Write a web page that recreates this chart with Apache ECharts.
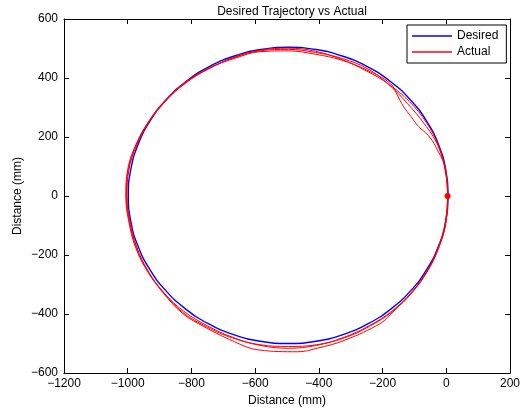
<!DOCTYPE html>
<html>
<head>
<meta charset="utf-8">
<script src="https://cdn.jsdelivr.net/npm/echarts@6/dist/echarts.min.js"></script>
<style>
  html, body { margin: 0; padding: 0; background: #fff; }
  #chart { width: 527px; height: 412px; }
</style>
</head>
<body>
<div id="chart"></div>
<script>
// Reference path: a circle of about 500 mm radius passing near the origin (x, y in mm)
const desiredPath = [
  [6, 2], [-1.6, 89.1], [-24.3, 173.7], [-61.3, 253], [-111.5, 324.7], [-173.3, 386.5],
  [-245, 436.7], [-324.3, 473.7], [-408.9, 496.4], [-496, 504], [-583.1, 496.4],
  [-667.7, 473.7], [-747, 436.7], [-818.7, 386.5], [-880.5, 324.7], [-930.7, 253],
  [-967.7, 173.7], [-990.4, 89.1], [-998, 2], [-990.4, -85.1], [-967.7, -169.7],
  [-930.7, -249], [-880.5, -320.7], [-818.7, -382.5], [-747, -432.7], [-667.7, -469.7],
  [-583.1, -492.4], [-496, -500], [-408.9, -492.4], [-324.3, -469.7], [-245, -432.7],
  [-173.3, -382.5], [-111.5, -320.7], [-61.3, -249], [-24.3, -169.7], [-1.6, -85.1], [6, 2]
];

// Measured path, three laps (x, y in mm)
const actualLap1 = [
  [4, 0], [-1.6, 87.1], [-33.7, 168.3], [-56.4, 205], [-87.2, 236], [-111, 269.6],
  [-134.4, 303.4], [-153.8, 342.2], [-175.9, 381.5], [-249.5, 426.9], [-328.4, 460.5],
  [-411.3, 480.6], [-496, 492], [-582.3, 489.5], [-665.6, 466.1], [-746, 433],
  [-819.3, 385.3], [-882.1, 324], [-934.2, 253], [-973.4, 173.7], [-998.2, 88.5],
  [-1004, 0], [-994.3, -87.8], [-973.4, -173.7], [-937.7, -255], [-888.2, -329.1],
  [-829, -396.8], [-779, -432], [-665, -494], [-588, -522], [-466, -528], [-405, -516],
  [-318.2, -488.6], [-204, -430], [-166.9, -392.2], [-106.9, -326.5], [-58.7, -252.5],
  [-23.3, -172], [-1.6, -87.1], [4, 0]
];
const actualLap2 = [
  [-3.6, 86.8], [-26.2, 171], [-69.9, 246], [-122.2, 313.7], [-179.7, 376.9],
  [-247, 431.3], [-326.4, 466.1], [-410.2, 486.5], [-496, 497], [-582.8, 492.4],
  [-666.7, 468.9], [-747, 431.3], [-817.4, 383], [-881.3, 323.3], [-933.3, 252.5],
  [-974.3, 174.1], [-1000.2, 88.9], [-1006, 0], [-996.3, -88.2], [-975.2, -174.4],
  [-937.7, -255], [-886.7, -327.8], [-827, -394.5], [-752, -443.4], [-671.1, -481.1],
  [-584.9, -504.2], [-496, -510], [-407.1, -504.2], [-320.9, -481.1], [-241, -441.7],
  [-168.2, -390.7], [-106.9, -326.5], [-57.8, -253], [-22.4, -172.4], [-0.6, -87.3], [4, 0]
];
const actualLap3 = [
  [-2.6, 87], [-25.2, 171.3], [-63, 250], [-115.3, 319.5], [-179.1, 377.6],
  [-251, 424.3], [-327.7, 462.3], [-409.5, 490.4], [-496, 501], [-583.1, 494.4],
  [-667, 469.8], [-745, 431.3], [-818.7, 384.5], [-880.5, 322.7], [-932.5, 252],
  [-971.5, 173.1], [-996.3, 88.2], [-1002, 0], [-992.3, -87.5], [-971.5, -173.1],
  [-936, -254], [-886.7, -327.8], [-823.8, -390.7], [-750, -439.9], [-670.4, -479.2],
  [-585.2, -506.2], [-496, -516], [-406.8, -506.2], [-321.6, -479.2], [-242, -439.9],
  [-169.5, -389.1], [-108.4, -325.3], [-59.5, -252], [-24.3, -171.7], [-2.6, -87], [4, 0]
];

const xTicks = { min: -1200, max: 200, step: 200 };
const yTicks = { min: -600, max: 600, step: 200 };

const minusFmt = v => String(v).replace('-', '\u2212');
const FONT = '"Liberation Sans", Arial, Helvetica, sans-serif';

// First sample carries a small start marker
const actualPath = actualLap1.concat(actualLap2, actualLap3).map((p, i) =>
  i === 0 ? { value: p, symbol: 'circle', symbolSize: 6, itemStyle: { color: '#ff0000' } } : p
);

const axisBase = {
  type: 'value',
  axisLine: { show: true, onZero: false, lineStyle: { color: '#000', width: 1 } },
  axisTick: { show: true, inside: true, length: 5, lineStyle: { color: '#000' } },
  splitLine: { show: false },
  axisLabel: { color: '#000', fontFamily: FONT, fontSize: 12, formatter: minusFmt }
};

const chart = echarts.init(document.getElementById('chart'), null, { renderer: 'canvas' });
chart.setOption({
  animation: false,
  backgroundColor: '#fff',
  title: {
    text: 'Desired Trajectory vs Actual',
    left: 287, top: 1, textAlign: 'center',
    textStyle: { fontFamily: FONT, fontSize: 12, fontWeight: 'normal', color: '#000' }
  },
  grid: { left: 64, right: 17, top: 19, bottom: 39, containLabel: false },
  legend: {
    orient: 'vertical',
    left: 407, top: 25,
    padding: [5, 8, 5, 5],
    itemGap: 4,
    itemWidth: 40, itemHeight: 1.5,
    backgroundColor: '#fff',
    borderColor: '#000', borderWidth: 1,
    textStyle: { fontFamily: FONT, fontSize: 12, color: '#000', lineHeight: 12 },
    data: [
      { name: 'Desired', icon: 'rect' },
      { name: 'Actual', icon: 'rect' }
    ]
  },
  xAxis: [
    Object.assign({}, axisBase, {
      min: xTicks.min, max: xTicks.max, interval: xTicks.step,
      name: 'Distance (mm)', nameLocation: 'middle', nameGap: 20,
      nameTextStyle: { fontFamily: FONT, fontSize: 12, color: '#000' },
      axisLabel: Object.assign({}, axisBase.axisLabel, { margin: 5 })
    }),
    Object.assign({}, axisBase, {
      position: 'top', min: xTicks.min, max: xTicks.max, interval: xTicks.step,
      axisLabel: { show: false }
    })
  ],
  yAxis: [
    Object.assign({}, axisBase, {
      min: yTicks.min, max: yTicks.max, interval: yTicks.step,
      name: 'Distance (mm)', nameLocation: 'middle', nameGap: 40, nameRotate: 90,
      nameMoveOverlap: false,
      nameTextStyle: { fontFamily: FONT, fontSize: 12, color: '#000' },
      axisLabel: Object.assign({}, axisBase.axisLabel, { margin: 6 })
    }),
    Object.assign({}, axisBase, {
      position: 'right', min: yTicks.min, max: yTicks.max, interval: yTicks.step,
      axisLabel: { show: false }
    })
  ],
  series: [
    {
      name: 'Desired', type: 'line', data: desiredPath,
      symbol: 'none', smooth: 0.5,
      lineStyle: { color: '#0000ff', width: 1.4 }, itemStyle: { color: '#0000ff' },
      z: 2
    },
    {
      name: 'Actual', type: 'line', data: actualPath,
      symbol: 'none', showSymbol: true, smooth: 0.4,
      lineStyle: { color: '#ff0000', width: 1 }, itemStyle: { color: '#ff0000' },
      z: 3
    }
  ]
});
</script>
</body>
</html>
